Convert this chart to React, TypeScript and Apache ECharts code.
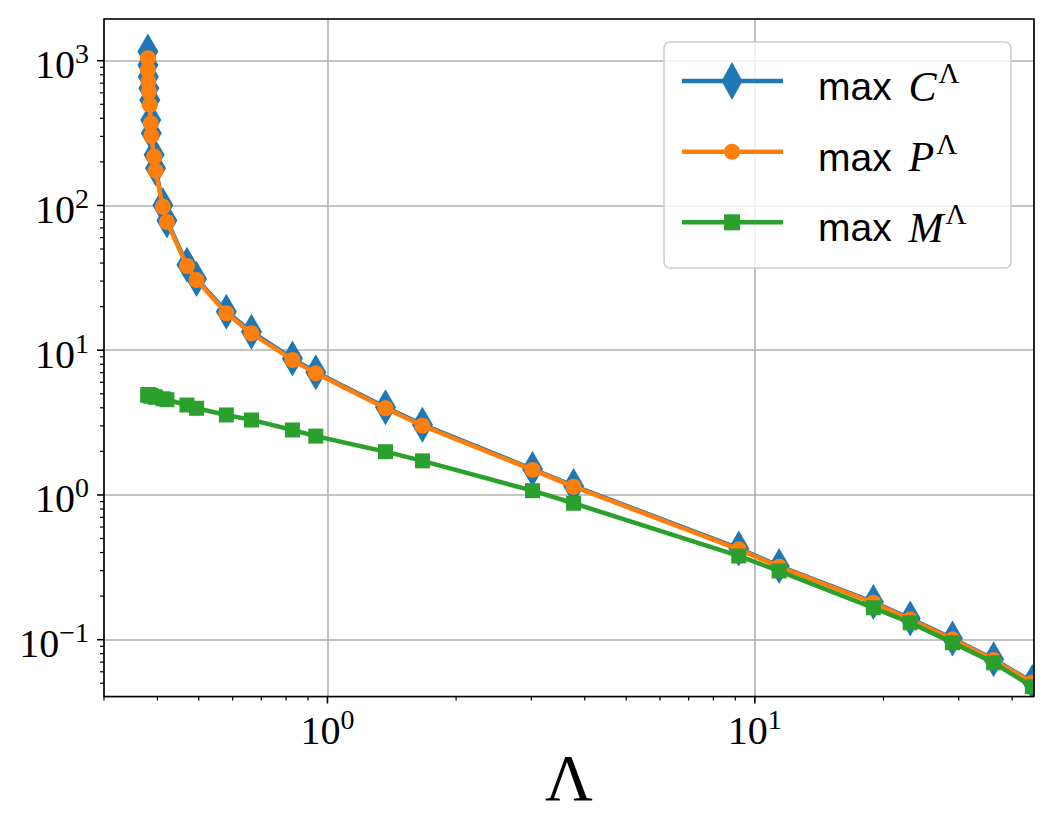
import React, { useEffect, useRef } from 'react';
import * as echarts from 'echarts';

// ---- data ----
const LAMBDA = [0.380, 0.380, 0.381, 0.382, 0.384, 0.386, 0.387, 0.393, 0.396, 0.412, 0.421, 0.469, 0.494, 0.580, 0.664, 0.828, 0.939, 1.367, 1.668, 3.018, 3.766, 9.17, 11.40, 18.94, 23.10, 29.0, 36.2, 44.6];
const MAX_C = [1160, 935, 775, 645, 535, 390, 316, 224, 181, 100.5, 78.8, 39.0, 31.0, 18.4, 13.4, 8.75, 7.05, 4.03, 3.06, 1.51, 1.155, 0.427, 0.323, 0.182, 0.140, 0.1018, 0.0732, 0.0511];
const MAX_P = [1040, 863, 717, 610, 495, 369, 302, 217, 174, 98, 77, 38.2, 30.5, 18.0, 13.1, 8.56, 6.92, 3.97, 3.01, 1.49, 1.14, 0.421, 0.319, 0.180, 0.138, 0.1006, 0.0724, 0.0505];
const MAX_M = [4.93, 4.91, 4.90, 4.88, 4.86, 4.84, 4.82, 4.77, 4.73, 4.62, 4.55, 4.18, 3.97, 3.57, 3.30, 2.81, 2.55, 1.99, 1.72, 1.07, 0.876, 0.379, 0.298, 0.166, 0.131, 0.0954, 0.0693, 0.0473];

const SERIES_LETTERS = ['C', 'P', 'M'];
const SERIES_COLORS = ['#1f77b4', '#ff7f0e', '#2ca02c'];

const X_MIN = 0.3;
const X_MAX = 45;
const Y_MIN = 0.0405;
const Y_MAX = 1942;

const X_MAJOR_TICKS = [1, 10];
const X_MINOR_TICKS = [0.3, 0.4, 0.5, 0.6, 0.7, 0.8, 0.9, 2, 3, 4, 5, 6, 7, 8, 9, 20, 30, 40];
const Y_MAJOR_TICKS = [0.1, 1, 10, 100, 1000];
const Y_MINOR_TICKS = [0.05, 0.06, 0.07, 0.08, 0.09, 0.2, 0.3, 0.4, 0.5, 0.6, 0.7, 0.8, 0.9, 2, 3, 4, 5, 6, 7, 8, 9, 20, 30, 40, 50, 60, 70, 80, 90, 200, 300, 400, 500, 600, 700, 800, 900];

const SERIF = 'Liberation Serif';
const SANS = 'Liberation Sans';

const GRID = { left: 104, top: 19, right: 18, bottom: 138.5 };

const powLabel = (v: number) => {
  const e = Math.log10(v);
  const r = Math.round(e);
  if (Math.abs(e - r) > 1e-6) return '';
  return `{b|10}{s|${r < 0 ? '\u2212' + -r : r}}`;
};

const labelRich = {
  b: { fontFamily: SERIF, fontSize: 40, padding: [5, 0, 0, 0], color: '#000' },
  s: { fontFamily: SERIF, fontSize: 28, verticalAlign: 'top', color: '#000' },
};

export default function App() {
  const ref = useRef<HTMLDivElement>(null);

  useEffect(() => {
    if (!ref.current) return;
    const chart = echarts.init(ref.current, undefined, { renderer: 'svg' });

    const pts = (ys: number[]) => LAMBDA.map((x, i) => [x, ys[i]]);
    const seriesVals = [MAX_C, MAX_P, MAX_M];

    const tickData = [
      ...X_MAJOR_TICKS.map((v) => [v, Y_MIN, 0, 1]),
      ...X_MINOR_TICKS.map((v) => [v, Y_MIN, 0, 0]),
      ...Y_MAJOR_TICKS.map((v) => [X_MIN, v, 1, 1]),
      ...Y_MINOR_TICKS.map((v) => [X_MIN, v, 1, 0]),
    ];

    const markerRender = (kind: number) => (params: any, api: any) => {
      const p = api.coord([api.value(0), api.value(1)]);
      const color = SERIES_COLORS[kind];
      if (kind === 0) {
        const hw = 10.5, hh = 18;
        return {
          type: 'polygon',
          shape: { points: [[p[0], p[1] - hh], [p[0] + hw, p[1]], [p[0], p[1] + hh], [p[0] - hw, p[1]]] },
          style: { fill: color },
        };
      }
      if (kind === 1) {
        return { type: 'circle', shape: { cx: p[0], cy: p[1], r: 8 }, style: { fill: color } };
      }
      return { type: 'rect', shape: { x: p[0] - 7.5, y: p[1] - 7.5, width: 15, height: 15 }, style: { fill: color } };
    };

    const series: any[] = [];
    seriesVals.forEach((vals, k) => {
      series.push({
        type: 'line',
        name: 'max ' + SERIES_LETTERS[k],
        data: pts(vals),
        symbol: 'none',
        clip: true,
        z: 2 + k * 2,
        lineStyle: { color: SERIES_COLORS[k], width: 4.5 },
        silent: true,
      });
      series.push({
        type: 'custom',
        name: 'markers ' + SERIES_LETTERS[k],
        data: pts(vals),
        renderItem: markerRender(k),
        clip: true,
        z: 3 + k * 2,
        silent: true,
      });
    });
    series.push({
      type: 'custom',
      name: 'ticks',
      data: tickData,
      clip: false,
      z: 9,
      silent: true,
      renderItem: (params: any, api: any) => {
        const p = api.coord([api.value(0), api.value(1)]);
        const major = api.value(3) === 1;
        const len = major ? 7 : 4;
        const lw = major ? 1.6 : 1.2;
        const shape = api.value(2) === 0
          ? { x1: p[0], y1: p[1], x2: p[0], y2: p[1] + len }
          : { x1: p[0] - len, y1: p[1], x2: p[0], y2: p[1] };
        return { type: 'line', shape, style: { stroke: '#000', lineWidth: lw } };
      },
    });

    // frame (spines) above the grid lines and series
    const frame = {
      type: 'rect', z: 10, silent: true,
      shape: { x: GRID.left, y: GRID.top, width: 1052 - GRID.left - GRID.right, height: 835 - GRID.top - GRID.bottom },
      style: { fill: 'none', stroke: '#000', lineWidth: 1.6 },
    };

    // legend drawn with graphic elements
    const rows = [81, 151.7, 222.3];
    const legendEls: any[] = [
      {
        type: 'rect', z: 20,
        shape: { x: 664, y: 42, width: 347, height: 226, r: 6 },
        style: { fill: 'rgba(255,255,255,0.8)', stroke: '#cccccc', lineWidth: 1.6 },
      },
    ];
    rows.forEach((ry, k) => {
      const color = SERIES_COLORS[k];
      legendEls.push({
        type: 'line', z: 21,
        shape: { x1: 682, y1: ry, x2: 783, y2: ry },
        style: { stroke: color, lineWidth: 4.5 },
      });
      if (k === 0) {
        legendEls.push({
          type: 'polygon', z: 22,
          shape: { points: [[732, ry - 19], [742.5, ry], [732, ry + 19], [721.5, ry]] },
          style: { fill: color },
        });
      } else if (k === 1) {
        legendEls.push({ type: 'circle', z: 22, shape: { cx: 732, cy: ry, r: 8 }, style: { fill: color } });
      } else {
        legendEls.push({ type: 'rect', z: 22, shape: { x: 724, y: ry - 8, width: 16, height: 16 }, style: { fill: color } });
      }
      legendEls.push({
        type: 'text', z: 22,
        x: 818, y: ry + 2,
        style: {
          text: `{m|max }{c|${SERIES_LETTERS[k]}}{s|\u039B}`,
          align: 'left',
          verticalAlign: 'middle',
          rich: {
            m: { fontFamily: SANS, fontSize: 39, padding: [7, 0, 0, 0], fill: '#000', color: '#000' },
            c: { fontFamily: SERIF, fontSize: 42, fontStyle: 'italic', padding: [7, 2, 0, 6], fill: '#000', color: '#000' },
            s: { fontFamily: SERIF, fontSize: 29, verticalAlign: 'top', fill: '#000', color: '#000' },
          },
        },
      });
    });

    chart.setOption({
      animation: false,
      backgroundColor: '#ffffff',
      textStyle: { fontFamily: SERIF },
      grid: { ...GRID, show: false },
      xAxis: {
        type: 'log', logBase: 10, min: X_MIN, max: X_MAX,
        name: '\u039B', nameLocation: 'middle', nameGap: 48, nameMoveOverlap: false,
        nameTextStyle: { fontFamily: SERIF, fontSize: 66, color: '#000' },
        axisLine: { show: false },
        axisTick: { show: false },
        minorTick: { show: false },
        splitLine: { show: true, lineStyle: { color: '#b0b0b0', width: 1.6 } },
        axisLabel: { formatter: powLabel, margin: 9, rich: labelRich, color: '#000' },
      },
      yAxis: {
        type: 'log', logBase: 10, min: Y_MIN, max: Y_MAX,
        axisLine: { show: false },
        axisTick: { show: false },
        minorTick: { show: false },
        splitLine: { show: true, lineStyle: { color: '#b0b0b0', width: 1.6 } },
        axisLabel: { formatter: powLabel, margin: 15, rich: labelRich, color: '#000', padding: [3, 0, 0, 0] },
      },
      series,
      graphic: [frame, ...legendEls],
    });

    return () => chart.dispose();
  }, []);

  return (
    <div
      ref={ref}
      style={{ position: 'fixed', left: 0, top: 0, width: 1052, height: 835, background: '#fff' }}
    />
  );
}
